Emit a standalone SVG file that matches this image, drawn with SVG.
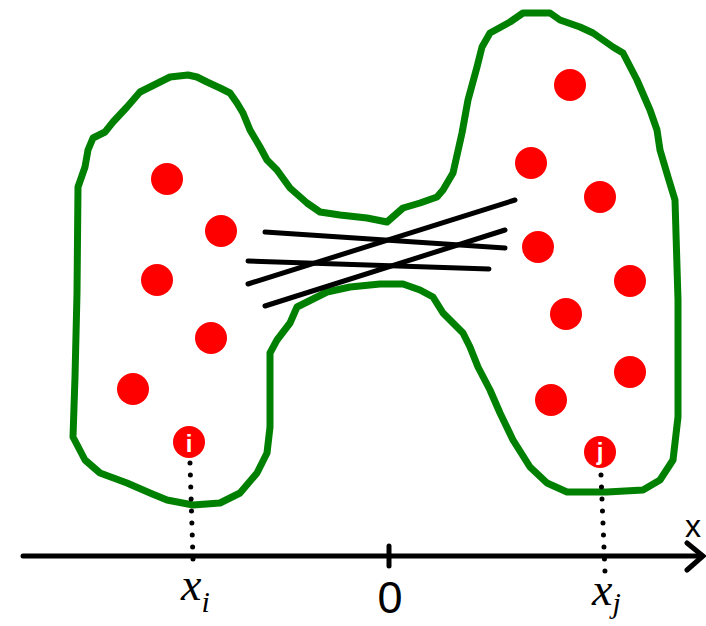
<svg xmlns="http://www.w3.org/2000/svg" width="706" height="626" viewBox="0 0 706 626">
<style>
.blob{fill:none;stroke:#008000;stroke-width:7;stroke-linejoin:round;stroke-linecap:round}
.dot{fill:#ff0000}
.ln{stroke:#000;stroke-width:5;stroke-linecap:round;fill:none}
.dots{stroke:#000;stroke-width:5;stroke-linecap:round;stroke-dasharray:0 12;fill:none}
.lbl{fill:#fff;font-family:"Liberation Sans",Arial,sans-serif;font-weight:bold;font-size:24px;text-anchor:middle}
.math{font-family:"Liberation Serif","Times New Roman",serif;font-style:italic;fill:#000}
.sans{font-family:"Liberation Sans",Arial,sans-serif;fill:#000}
</style>
<g id="blob">
<path class="blob" d="M188,75 L197,77 L207,82 L220,88 L230,93 L237,103 L243,113 L250,130 L260,147 L267,160 L277,170 L290,188 L307,203 L320,212 L340,215 L367,218 L387,222 L403,208 L420,203 L437,197 L443,190 L453,173 L462,133 L468,100 L477,67 L482,47 L490,33 L510,22 L523,13 L550,13 L560,20 L580,27 L593,33 L613,47 L623,53 L637,80 L650,110 L657,130 L660,150 L668,177 L675,200 L678,300 L678,417 L673,460 L660,480 L643,490 L607,492 L567,492 L547,483 L530,467 L513,440 L500,413 L490,390 L478,367 L470,347 L463,333 L443,313 L433,297 L420,290 L403,284 L380,284 L350,287 L327,292 L297,307 L290,323 L277,340 L270,353 L270,427 L267,453 L257,473 L240,493 L220,503 L193,505 L167,500 L150,493 L127,483 L100,473 L85,460 L73,437 L75,377 L77,293 L78,187 L85,167 L88,150 L93,138 L105,132 L113,122 L127,107 L140,92 L160,82 L170,77 Z"/>
</g>
<g id="connectors">
<line class="ln" x1="265" y1="232" x2="505" y2="248"/>
<line class="ln" x1="248" y1="261" x2="489" y2="269"/>
<line class="ln" x1="248" y1="284" x2="515" y2="200"/>
<line class="ln" x1="265" y1="306" x2="505" y2="230"/>
<line class="dots" x1="190" y1="463" x2="193" y2="559"/>
<line class="dots" x1="601" y1="475" x2="605" y2="572"/>
</g>
<g id="points-left">
<circle class="dot" cx="167" cy="179" r="16"/>
<circle class="dot" cx="221" cy="231" r="16"/>
<circle class="dot" cx="157" cy="280" r="16"/>
<circle class="dot" cx="211" cy="338" r="16"/>
<circle class="dot" cx="133" cy="389" r="16"/>
</g>
<g id="point-i">
<circle class="dot" cx="189" cy="442" r="16"/>
<text class="lbl" x="189" y="452">i</text>
</g>
<g id="points-right">
<circle class="dot" cx="570" cy="85" r="16"/>
<circle class="dot" cx="531" cy="163" r="16"/>
<circle class="dot" cx="600" cy="197" r="16"/>
<circle class="dot" cx="538" cy="247" r="16"/>
<circle class="dot" cx="630" cy="281" r="16"/>
<circle class="dot" cx="566" cy="314" r="16"/>
<circle class="dot" cx="630" cy="372" r="16"/>
<circle class="dot" cx="551" cy="400" r="16"/>
</g>
<g id="point-j">
<circle class="dot" cx="600" cy="452" r="16"/>
<text class="lbl" x="600" y="460">j</text>
</g>
<g id="axis">
<line class="ln" x1="23" y1="556" x2="702" y2="556"/>
<polyline class="ln" points="687,543 703,556 687,570"/>
<line class="ln" x1="389" y1="546" x2="389" y2="566"/>
<text class="sans" x="685" y="537" font-size="32">x</text>
<text class="sans" x="390" y="613" font-size="45" text-anchor="middle">0</text>
<text class="math" x="181" y="600" font-size="46">x<tspan font-size="30" dy="12">i</tspan></text>
<text class="math" x="592" y="605" font-size="46">x<tspan font-size="30" dy="8">j</tspan></text>
</g>
</svg>
